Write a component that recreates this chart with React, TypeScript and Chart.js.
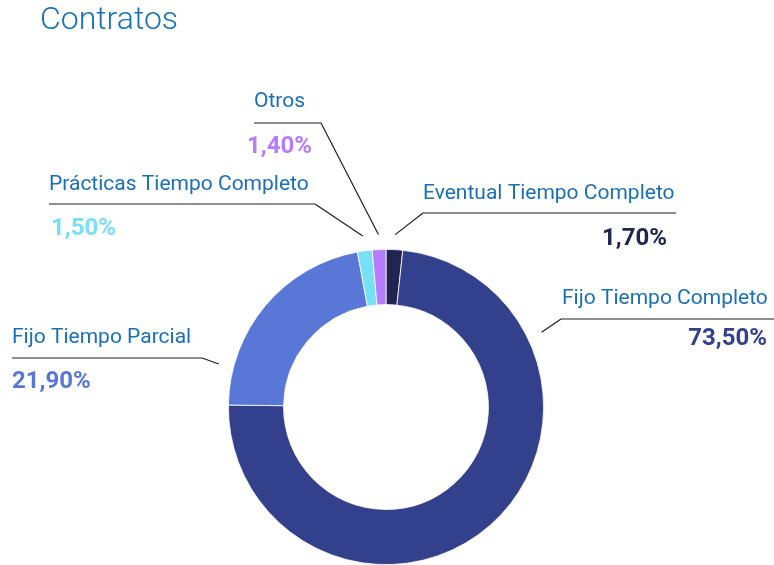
import React, { useEffect, useRef } from "react";
import { Chart, registerables } from "chart.js";

Chart.register(...registerables);

const titleText = "Contratos";
const categories = [
  "Eventual Tiempo Completo",
  "Fijo Tiempo Completo",
  "Fijo Tiempo Parcial",
  "Prácticas Tiempo Completo",
  "Otros",
];
const values = [1.7, 73.5, 21.9, 1.5, 1.4];
const percentLabels = ["1,70%", "73,50%", "21,90%", "1,50%", "1,40%"];
const sliceColors = ["#212650", "#33418d", "#5977d7", "#77e0f4", "#b57cfd"];

// Label layout (annotation placement, not data)
type LabelLayout = {
  textX: number; textY: number;
  lineY: number; lineX1: number; lineX2: number;
  elbowX: number;
  pctX: number; pctY: number; pctAlign: CanvasTextAlign;
  anchorFrac: number;
};
const labelLayout: LabelLayout[] = [
  { textX: 423, textY: 194, lineY: 213, lineX1: 423, lineX2: 676, elbowX: 423, pctX: 667, pctY: 239, pctAlign: "right", anchorFrac: 0.5 },
  { textX: 562, textY: 299, lineY: 319, lineX1: 561, lineX2: 774, elbowX: 561, pctX: 767, pctY: 339, pctAlign: "right", anchorFrac: 0.22 },
  { textX: 12, textY: 338, lineY: 358, lineX1: 12, lineX2: 202, elbowX: 202, pctX: 12, pctY: 382, pctAlign: "left", anchorFrac: 0.174 },
  { textX: 49, textY: 185, lineY: 204, lineX1: 49, lineX2: 315, elbowX: 315, pctX: 51, pctY: 229, pctAlign: "left", anchorFrac: 0.5 },
  { textX: 254, textY: 102, lineY: 123, lineX1: 254, lineX2: 321, elbowX: 321, pctX: 247, pctY: 147, pctAlign: "left", anchorFrac: 0.5 },
];

const labelColor = "#1b6fb5";

const calloutPlugin = {
  id: "callouts",
  afterDraw(chart: any) {
    const ctx = chart.ctx as CanvasRenderingContext2D;
    const meta = chart.getDatasetMeta(0);
    ctx.save();
    // title
    ctx.fillStyle = "#1a71b8";
    ctx.font = "300 32px Roboto";
    ctx.textAlign = "left";
    ctx.textBaseline = "middle";
    ctx.fillText(titleText, 40, 21);

    meta.data.forEach((arc: any, i: number) => {
      const L = labelLayout[i];
      const p = arc.getProps(["x", "y", "startAngle", "endAngle", "outerRadius"], true);
      const a = p.startAngle + (p.endAngle - p.startAngle) * L.anchorFrac;
      const r = p.outerRadius + 15;
      const ax = p.x + Math.cos(a) * r;
      const ay = p.y + Math.sin(a) * r;

      ctx.strokeStyle = "#1e1e1e";
      ctx.lineWidth = 1.2;
      ctx.beginPath();
      ctx.moveTo(L.lineX1, L.lineY);
      ctx.lineTo(L.lineX2, L.lineY);
      ctx.stroke();
      ctx.beginPath();
      ctx.moveTo(L.elbowX, L.lineY);
      ctx.lineTo(ax, ay);
      ctx.stroke();

      ctx.fillStyle = labelColor;
      ctx.font = "400 21px Roboto";
      ctx.textAlign = "left";
      ctx.textBaseline = "middle";
      ctx.fillText(categories[i], L.textX, L.textY);

      ctx.fillStyle = sliceColors[i];
      ctx.font = "700 24px Roboto";
      ctx.textAlign = L.pctAlign;
      ctx.fillText(percentLabels[i], L.pctX, L.pctY);
    });
    ctx.restore();
  },
};

export default function App() {
  const ref = useRef<HTMLCanvasElement | null>(null);
  useEffect(() => {
    if (!ref.current) return;
    const chart = new Chart(ref.current, {
      type: "doughnut",
      data: {
        labels: categories,
        datasets: [
          {
            data: values,
            backgroundColor: sliceColors,
            borderColor: "#ffffff",
            borderWidth: 0.8,
          },
        ],
      },
      options: {
        responsive: false,
        animation: false,
        cutout: "65%",
        layout: { padding: { left: 228, right: 230, top: 249, bottom: 0 } },
        plugins: {
          legend: { display: false },
          tooltip: { enabled: false },
          title: { display: false },
        },
      },
      plugins: [calloutPlugin],
    });
    return () => chart.destroy();
  }, []);
  return (
    <div style={{ position: "fixed", left: 0, top: 0, width: 774, height: 565, background: "#fff" }}>
      <canvas ref={ref} width={774} height={565} style={{ width: 774, height: 565 }} />
    </div>
  );
}
